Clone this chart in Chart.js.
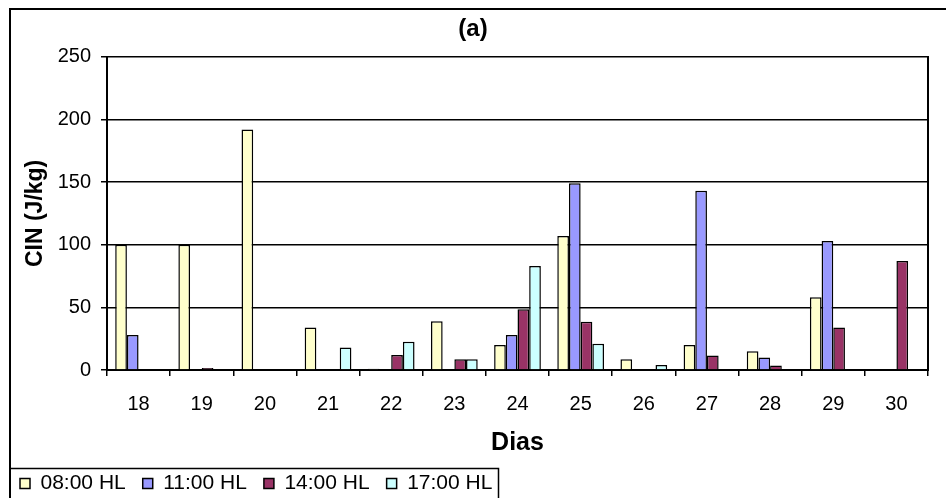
<!DOCTYPE html>
<html>
<head>
<meta charset="utf-8">
<script src="https://cdn.jsdelivr.net/npm/chart.js@4.4.1/dist/chart.umd.min.js"></script>
<style>
  html, body { margin: 0; padding: 0; background: #fff; overflow: hidden; }
  #wrap { position: relative; width: 946px; height: 498px; }
</style>
</head>
<body>
<div id="wrap"><canvas id="cinChart"></canvas></div>
<script>
// CIN (J/kg) por dia, quatro horários
const dias = ['18', '19', '20', '21', '22', '23', '24', '25', '26', '27', '28', '29', '30'];
const cin08 = [100, 100, 192, 34, 1, 39, 20, 107, 8.5, 20, 15, 58, 0];
const cin11 = [28, 0, 0, 0, 0, 0, 28, 149, 0, 143, 10, 103, 0];
const cin14 = [0, 1.5, 0, 0, 12, 8.5, 48.5, 38.5, 0, 11.5, 3.5, 34, 87];
const cin17 = [0, 0, 0, 18, 22.5, 8.5, 83, 21, 4, 0, 0, 0, 0];
const yTicks = [0, 50, 100, 150, 200, 250];

Chart.defaults.font.family = '"Liberation Sans", Arial, sans-serif';
Chart.defaults.color = '#000';

// frame around the whole chart + box around the legend
const framePlugin = {
    id: 'frame',
    beforeDraw(chart) {
        const ctx = chart.ctx;
        ctx.save();
        ctx.fillStyle = '#fff';
        ctx.fillRect(0, 0, chart.width, chart.height);
        ctx.strokeStyle = '#000';
        ctx.lineWidth = 2;
        ctx.strokeRect(10, 9, chart.width + 20, chart.height + 20);

        const lg = chart.legend;
        if (lg && lg.legendHitBoxes && lg.legendHitBoxes.length) {
            const hb = lg.legendHitBoxes;
            const last = hb[hb.length - 1];
            const top = Math.round(hb[0].top - 5) + 0.5;
            const right = Math.round(last.left + last.width + 6) + 0.5;
            ctx.lineWidth = 1.5;
            ctx.beginPath();
            ctx.moveTo(10, top);
            ctx.lineTo(right, top);
            ctx.lineTo(right, chart.height + 5);
            ctx.stroke();
        }
        ctx.restore();
    }
};

const ctx = document.getElementById('cinChart');
new Chart(ctx, {
    type: 'bar',
    data: {
        labels: dias,
        datasets: [
            { label: '08:00 HL', data: cin08, backgroundColor: '#FFFFCC' },
            { label: '11:00 HL', data: cin11, backgroundColor: '#9999FF' },
            { label: '14:00 HL', data: cin14, backgroundColor: '#993366' },
            { label: '17:00 HL', data: cin17, backgroundColor: '#CCFFFF' }
        ]
    },
    options: {
        responsive: true,
        maintainAspectRatio: false,
        animation: false,
        layout: { padding: { left: 3, right: 3, top: 0, bottom: -6 } },
        datasets: {
            bar: {
                borderColor: '#000',
                borderWidth: 1.5,
                categoryPercentage: 0.74,
                barPercentage: 1.0
            }
        },
        plugins: {
            title: {
                display: true,
                text: '(a)',
                font: { size: 24, weight: 'bold', lineHeight: 1.2 },
                padding: { top: 15, bottom: 13 }
            },
            legend: {
                position: 'bottom',
                align: 'start',
                labels: {
                    font: { size: 21 },
                    boxWidth: 10,
                    boxHeight: 10,
                    padding: 17
                }
            },
            tooltip: { enabled: false }
        },
        scales: {
            x: {
                grid: {
                    color: '#000',
                    lineWidth: 1.5,
                    drawOnChartArea: false,
                    tickLength: 6
                },
                border: { color: '#000', width: 2 },
                ticks: { font: { size: 20 }, padding: 16, maxRotation: 0 },
                title: {
                    display: true,
                    text: 'Dias',
                    font: { size: 25, weight: 'bold', lineHeight: 1 },
                    padding: { top: 0, bottom: 0 }
                },
                afterFit(scale) { scale.height = 86; }
            },
            y: {
                min: 0,
                max: 250,
                afterBuildTicks(scale) { scale.ticks = yTicks.map(v => ({ value: v })); },
                grid: { color: '#000', lineWidth: 1.5, tickLength: 6 },
                border: { color: '#000', width: 2 },
                ticks: { font: { size: 20 }, padding: 10 },
                title: {
                    display: true,
                    text: 'CIN (J/kg)',
                    font: { size: 23, weight: 'bold' },
                    padding: { top: 19, bottom: 0 }
                },
                afterFit(scale) { scale.width = 104; }
            },
            yEdge: {
                position: 'right',
                display: true,
                grid: { drawOnChartArea: false, drawTicks: false },
                border: { color: '#000', width: 2 },
                ticks: { display: false },
                afterFit(scale) { scale.width = 15; }
            }
        }
    },
    plugins: [framePlugin]
});
</script>
</body>
</html>
